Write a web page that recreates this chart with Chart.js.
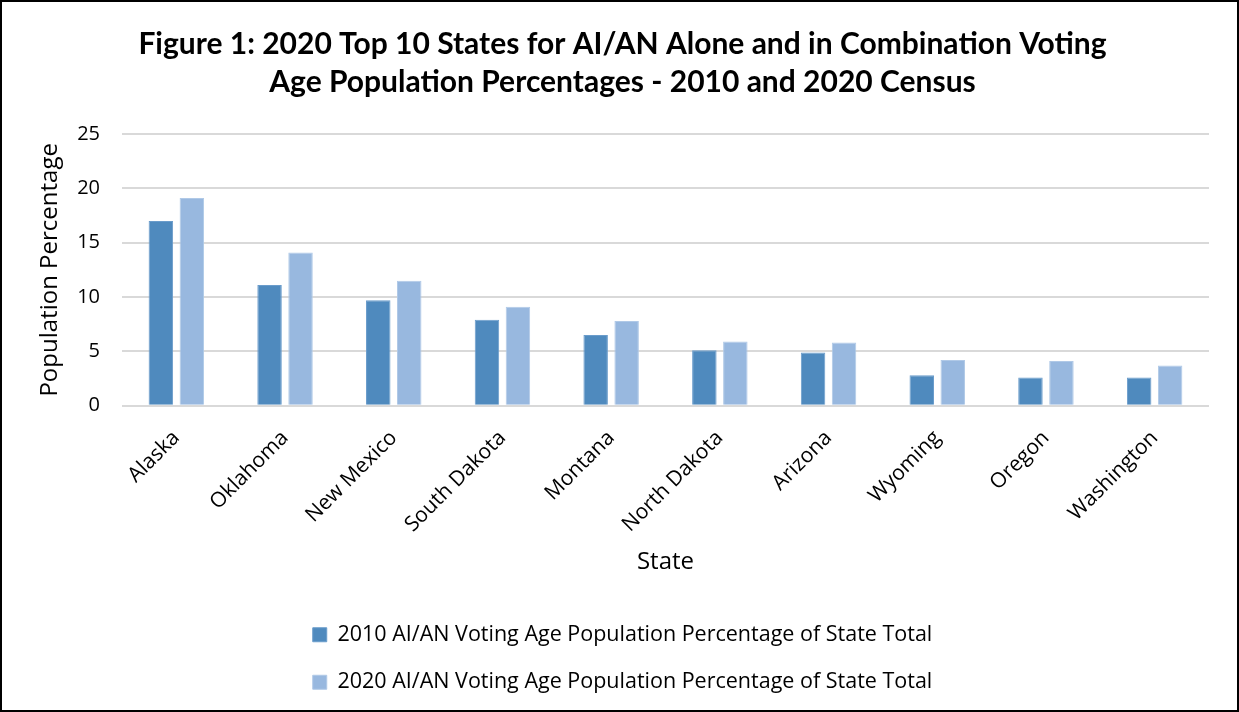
<!DOCTYPE html>
<html>
<head>
<meta charset="utf-8">
<script src="https://cdn.jsdelivr.net/npm/chart.js@4/dist/chart.umd.min.js"></script>
<style>
  html, body { margin: 0; padding: 0; background: #fff; }
  #frame {
    width: 1239px; height: 712px; box-sizing: border-box;
    border: 2px solid #000; background: #fff; position: relative;
  }
  #wrap { position: absolute; left: 0; top: 0; right: 0; bottom: 0; }
</style>
</head>
<body>
<div id="frame"><div id="wrap"><canvas id="chart"></canvas></div></div>
<script>
// Top 10 states by AI/AN voting age population share
const states = ["Alaska", "Oklahoma", "New Mexico", "South Dakota", "Montana",
                "North Dakota", "Arizona", "Wyoming", "Oregon", "Washington"];
const pct2010 = [17.0, 11.1, 9.7, 7.9, 6.5, 5.1, 4.9, 2.8, 2.6, 2.6];
const pct2020 = [19.1, 14.1, 11.5, 9.1, 7.8, 5.9, 5.8, 4.2, 4.1, 3.7];
const seriesNames = [
  "2010 AI/AN Voting Age Population Percentage of State Total",
  "2020 AI/AN Voting Age Population Percentage of State Total"
];
const yTicks = [0, 5, 10, 15, 20, 25];
const titleLines = [
  "Figure 1: 2020 Top 10 States for AI/AN Alone and in Combination Voting",
  "Age Population Percentages - 2010 and 2020 Census"
];

const axisFont = "'Open Sans', 'DejaVu Sans', sans-serif";
const textFont = "Lato, 'Open Sans', sans-serif";

// Keep the legend entries stacked one per row
const stackedLegend = {
  id: "stackedLegend",
  afterInit(chart) {
    const lg = chart.legend;
    const update = lg.update.bind(lg);
    lg.update = (w, h, m) => update(Math.min(w, 720), h, m);
  }
};

new Chart(document.getElementById("chart"), {
  type: "bar",
  data: {
    labels: states,
    datasets: [
      { label: seriesNames[0], data: pct2010, backgroundColor: "#4f8abe",
        borderColor: "#6a9ccb", borderWidth: 1,
        categoryPercentage: 0.57, barPercentage: 0.79 },
      { label: seriesNames[1], data: pct2020, backgroundColor: "#98b8df",
        borderColor: "#b0c9e7", borderWidth: 1,
        categoryPercentage: 0.57, barPercentage: 0.79 }
    ]
  },
  plugins: [stackedLegend],
  options: {
    responsive: true,
    maintainAspectRatio: false,
    animation: false,
    layout: { padding: { left: 34, right: 28, top: 0, bottom: 7 } },
    plugins: {
      tooltip: { enabled: false },
      title: {
        display: true,
        text: titleLines,
        color: "#000",
        font: { family: textFont, size: 30, weight: "bold", lineHeight: 1.25 },
        padding: { top: 24, bottom: 33 }
      },
      legend: {
        position: "bottom",
        labels: {
          color: "#000",
          font: { family: axisFont, size: 21.5 },
          boxWidth: 14, boxHeight: 14,
          padding: 26
        }
      }
    },
    scales: {
      x: {
        grid: { display: false, drawTicks: false },
        border: { display: false },
        afterFit: (axis) => { axis.paddingLeft = 0; axis.paddingRight = 0; },
        ticks: {
          color: "#000", padding: 20,
          minRotation: 45, maxRotation: 45,
          font: { family: axisFont, size: 21 }
        },
        title: {
          display: true, text: "State", color: "#000",
          font: { family: axisFont, size: 24 },
          padding: { top: -9, bottom: 21 }
        }
      },
      y: {
        min: 0, max: 25,
        afterBuildTicks: (axis) => { axis.ticks = yTicks.map(v => ({ value: v })); },
        afterFit: (axis) => { axis.width = 86; },
        grid: { color: "#d9d9d9", lineWidth: 2, drawTicks: false },
        border: { display: false },
        ticks: {
          color: "#000", padding: 22,
          font: { family: axisFont, size: 20 }
        },
        title: {
          display: true, text: "Population Percentage", color: "#000",
          font: { family: axisFont, size: 24 },
          padding: { top: 0, bottom: 12 }
        }
      }
    }
  }
});
</script>
</body>
</html>
